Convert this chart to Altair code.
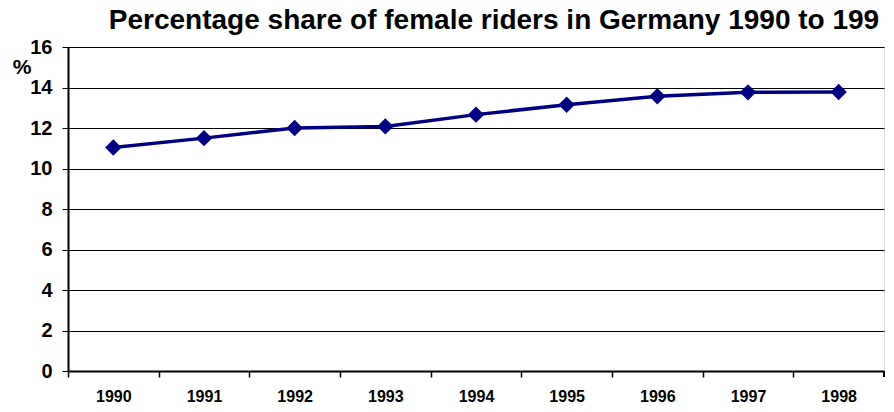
import altair as alt
import pandas as pd

years = ["1990", "1991", "1992", "1993", "1994", "1995", "1996", "1997", "1998"]
shares = [11.04, 11.50, 12.00, 12.08, 12.66, 13.15, 13.57, 13.76, 13.78]
y_ticks = [0, 2, 4, 6, 8, 10, 12, 14, 16]
title_text = "Percentage share of female riders in Germany 1990 to 199"
unit_text = "%"

W, H = 816, 324
half_step = W / len(years) / 2
FONT = "Liberation Sans, Arial, sans-serif"
NAVY = "#000080"

df = pd.DataFrame({"year": years, "share": shares})

x_enc = alt.X(
    "year:O",
    sort=years,
    scale=alt.Scale(type="point", padding=0.5),
    axis=alt.Axis(
        title=None, grid=False, labelAngle=0,
        domainColor="black", domainWidth=2,
        tickColor="black", tickWidth=1.5, tickSize=6,
        tickOffset=-half_step, labelOffset=half_step,
        labelFont=FONT, labelFontSize=16, labelFontWeight="bold",
        labelColor="black", labelPadding=11,
    ),
)
y_enc = alt.Y(
    "share:Q",
    scale=alt.Scale(domain=[0, 16], nice=False, zero=True),
    axis=alt.Axis(
        title=None, values=y_ticks, grid=True, gridColor="black", gridWidth=1,
        domainColor="black", domainWidth=2,
        tickColor="black", tickWidth=1, tickSize=6,
        labelFont=FONT, labelFontSize=20, labelFontWeight="bold",
        labelColor="black", labelPadding=10,
    ),
)

base = alt.Chart(df)
line = base.mark_line(color=NAVY, strokeWidth=3.5).encode(x=x_enc, y=y_enc)
pts = base.mark_point(shape="diamond", filled=True, size=270, color=NAVY, opacity=1).encode(
    x="year:O", y="share:Q"
)

end_tick = alt.Chart(df).mark_rule(color="black", strokeWidth=1.5).encode(
    x=alt.value(W), y=alt.value(H), y2=alt.value(H + 6)
)

title = alt.Chart(pd.DataFrame({"t": [title_text]})).mark_text(
    font=FONT, fontSize=28, fontWeight="bold", color="black",
    align="center", baseline="alphabetic",
).encode(text="t:N", x=alt.value(426), y=alt.value(-18))

unit = alt.Chart(pd.DataFrame({"t": [unit_text]})).mark_text(
    font=FONT, fontSize=21, fontWeight="bold", color="black",
    align="center", baseline="middle",
).encode(text="t:N", x=alt.value(-46), y=alt.value(21))

chart = (
    alt.layer(line, pts, end_tick, title, unit)
    .properties(
        width=W, height=H,
        autosize=alt.AutoSizeParams(type="none"),
        padding={"left": 60, "top": 39, "right": 2, "bottom": 33},
    )
    .configure_view(stroke="black", strokeWidth=1.5)
    .configure(background="white")
)

chart.save("out.html", embed_options={"renderer": "svg", "actions": False})
